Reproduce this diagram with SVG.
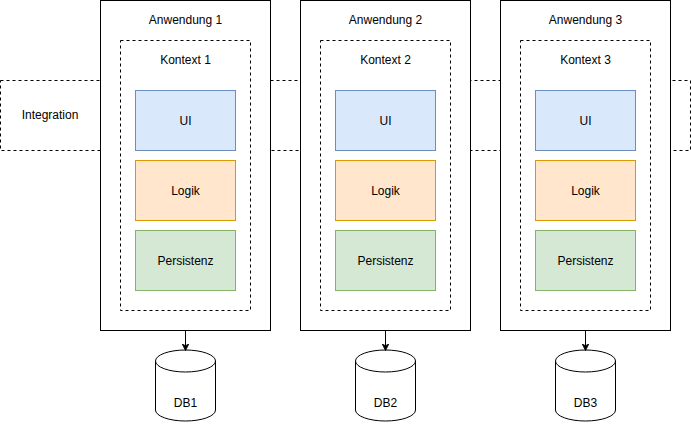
<svg xmlns="http://www.w3.org/2000/svg" width="691" height="431" viewBox="0 0 691 431">
<style>
text{font-family:"Liberation Sans",Arial,sans-serif;font-size:12px;fill:#000;text-anchor:middle;dominant-baseline:central}
.dash{fill:none;stroke:#000;stroke-dasharray:3 3}
.app{fill:#fff;stroke:#000}
.ctx{fill:#fff;stroke:#000;stroke-dasharray:3 3}
.ui{fill:#dae8fc;stroke:#6c8ebf}
.lg{fill:#ffe6cc;stroke:#d79b00}
.ps{fill:#d5e8d4;stroke:#82b366}
.db{fill:#fff;stroke:#000}
</style>
<defs>
<marker id="ah" viewBox="0 0 10 10" refX="9" refY="5" markerWidth="7" markerHeight="7" orient="auto" markerUnits="userSpaceOnUse"><path d="M0,0 L10,5 L0,10 L3,5 Z" fill="#000" stroke="#000"/></marker>
</defs>
<g id="integration">
<rect class="dash" x="0.5" y="80.5" width="690" height="70"/>
<text x="50" y="115">Integration</text>
</g>
<g id="app1">
<rect class="app" x="100.5" y="0.5" width="170" height="330"/>
<text x="185.5" y="20">Anwendung 1</text>
<rect class="ctx" x="120.5" y="40.5" width="130" height="270"/>
<text x="185.5" y="60">Kontext 1</text>
<rect class="ui" x="135.5" y="90.5" width="100" height="60"/><text x="185.5" y="120.5">UI</text>
<rect class="lg" x="135.5" y="160.5" width="100" height="60"/><text x="185.5" y="190.5">Logik</text>
<rect class="ps" x="135.5" y="230.5" width="100" height="60"/><text x="185.5" y="260.5">Persistenz</text>
</g>
<g id="app2">
<rect class="app" x="300.5" y="0.5" width="170" height="330"/>
<text x="385.5" y="20">Anwendung 2</text>
<rect class="ctx" x="320.5" y="40.5" width="130" height="270"/>
<text x="385.5" y="60">Kontext 2</text>
<rect class="ui" x="335.5" y="90.5" width="100" height="60"/><text x="385.5" y="120.5">UI</text>
<rect class="lg" x="335.5" y="160.5" width="100" height="60"/><text x="385.5" y="190.5">Logik</text>
<rect class="ps" x="335.5" y="230.5" width="100" height="60"/><text x="385.5" y="260.5">Persistenz</text>
</g>
<g id="app3">
<rect class="app" x="500.5" y="0.5" width="170" height="330"/>
<text x="585.5" y="20">Anwendung 3</text>
<rect class="ctx" x="520.5" y="40.5" width="130" height="270"/>
<text x="585.5" y="60">Kontext 3</text>
<rect class="ui" x="535.5" y="90.5" width="100" height="60"/><text x="585.5" y="120.5">UI</text>
<rect class="lg" x="535.5" y="160.5" width="100" height="60"/><text x="585.5" y="190.5">Logik</text>
<rect class="ps" x="535.5" y="230.5" width="100" height="60"/><text x="585.5" y="260.5">Persistenz</text>
</g>
<g id="db1">
<path class="db" d="M155.5,361 A30,11 0 0 1 215.5,361 L215.5,410 A30,11 0 0 1 155.5,410 Z"/>
<path class="db" d="M155.5,361 A30,11 0 0 0 215.5,361"/>
<text x="185.5" y="403">DB1</text>
</g>
<g id="db2">
<path class="db" d="M355.5,361 A30,11 0 0 1 415.5,361 L415.5,410 A30,11 0 0 1 355.5,410 Z"/>
<path class="db" d="M355.5,361 A30,11 0 0 0 415.5,361"/>
<text x="385.5" y="403">DB2</text>
</g>
<g id="db3">
<path class="db" d="M555.5,361 A30,11 0 0 1 615.5,361 L615.5,410 A30,11 0 0 1 555.5,410 Z"/>
<path class="db" d="M555.5,361 A30,11 0 0 0 615.5,361"/>
<text x="585.5" y="403">DB3</text>
</g>
<g id="connectors" stroke="#000" fill="none">
<line x1="185.5" y1="330.5" x2="185.5" y2="350" marker-end="url(#ah)"/>
<line x1="385.5" y1="330.5" x2="385.5" y2="350" marker-end="url(#ah)"/>
<line x1="585.5" y1="330.5" x2="585.5" y2="350" marker-end="url(#ah)"/>
</g>
</svg>
